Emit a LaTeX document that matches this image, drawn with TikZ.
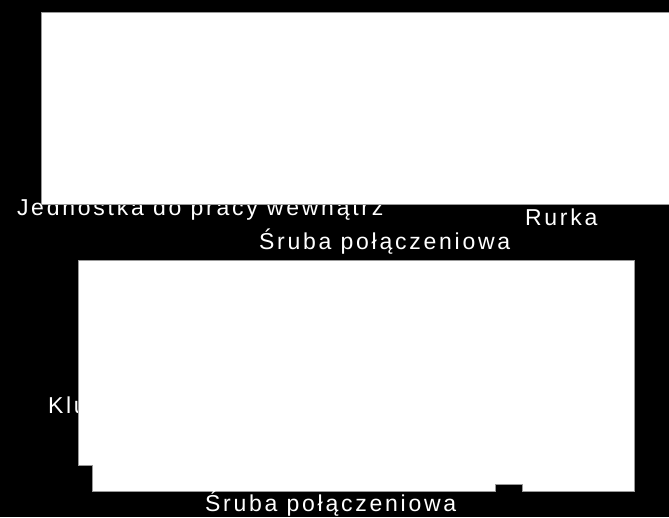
\documentclass[tikz,border=0pt]{standalone}
\usepackage{fontspec}
\newfontfamily\lblfont[LetterSpace=12]{Liberation Sans}
\begin{document}
\begin{tikzpicture}[x=1pt,y=-1pt,
    lbl/.style={text=white,font=\lblfont\fontsize{23}{27}\selectfont,
                anchor=base west,inner sep=0pt,outer sep=0pt},
    panel/.style={fill=white,draw=black!40,line width=0.4pt}
]
% background
\fill[black] (0,0) rectangle (669,517);
\useasboundingbox (0,0) rectangle (669,517);

% labels that sit under the panels
\node[lbl] (unit) at (17,215) {Jednostka do pracy wewnątrz};
\node[lbl] (key) at (48,413) {Klu};

% upper panel
\path[panel] (41,12) rectangle (670,204);

% lower panel, with its notches
\path[panel] (78,260) -- (634,260) -- (634,491) -- (522,491) -- (522,484)
  -- (495,484) -- (495,491) -- (92,491) -- (92,465) -- (78,465) -- cycle;

% labels in the open
\node[lbl] (pipe) at (525,225) {Rurka};
\node[lbl] (bolttop) at (259,249) {Śruba połączeniowa};
\node[lbl] (boltbot) at (205,511.5) {Śruba połączeniowa};

\end{tikzpicture}
\end{document}
